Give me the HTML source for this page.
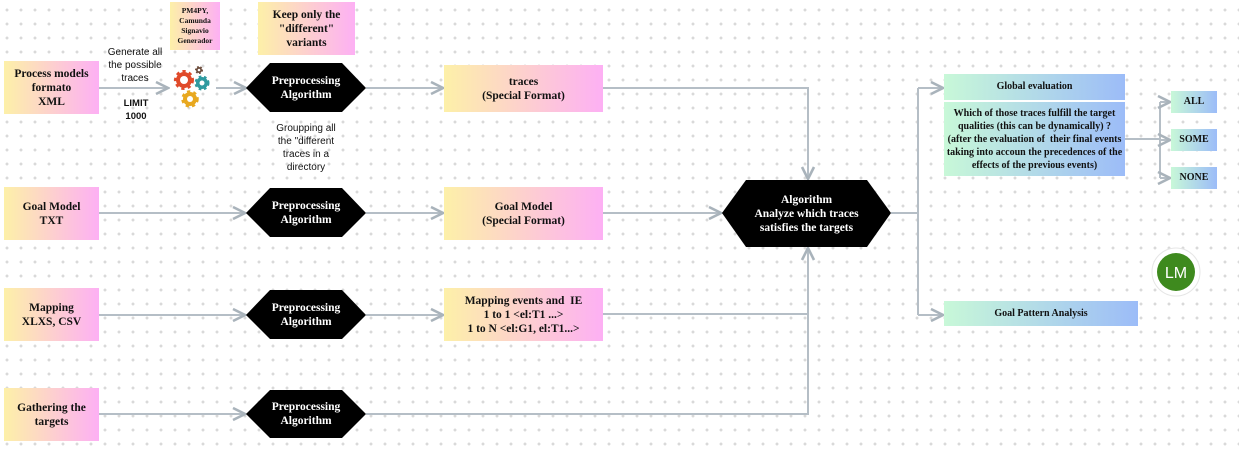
<!DOCTYPE html>
<html><head><style>
body{margin:0;width:1239px;height:450px;overflow:hidden;background:#fff;font-family:"Liberation Serif",serif;}
.bg{position:absolute;left:0;top:0;width:1239px;height:450px;background-image:radial-gradient(circle,#d9d9d9 1.3px,transparent 1.6px);background-size:14px 14px;background-position:0px 3px;}
.b{position:absolute;display:flex;align-items:center;justify-content:center;text-align:center;font-weight:bold;font-size:11.5px;line-height:14px;color:#111;box-sizing:border-box;}
.p{background:linear-gradient(90deg,#fdf0a8,#fdb0f4);}
.g{background:linear-gradient(90deg,#c8f8d8,#9cbcf8);}
.s{position:absolute;font-family:"Liberation Sans",sans-serif;font-size:10px;line-height:13px;text-align:center;color:#111;}
svg{position:absolute;left:0;top:0;}
</style></head><body>
<div class="bg"></div>
<svg width="1239" height="450">
<defs><marker id="a" markerWidth="8" markerHeight="8" refX="7" refY="4" orient="auto"><path d="M1,1 L7,4 L1,7" fill="none" stroke="#a9b3bb" stroke-width="1.3"/></marker></defs>
<g stroke="#b5bec6" stroke-width="2" fill="none">
<path d="M99,88 H168" marker-end="url(#a)"/>
<path d="M216,88 H246" marker-end="url(#a)"/>
<path d="M366,88 H443" marker-end="url(#a)"/>
<path d="M603,88 H808 V179" marker-end="url(#a)"/>
<path d="M99,213 H245" marker-end="url(#a)"/>
<path d="M366,213 H443" marker-end="url(#a)"/>
<path d="M603,213 H721" marker-end="url(#a)"/>
<path d="M99,315 H245" marker-end="url(#a)"/>
<path d="M366,315 H443" marker-end="url(#a)"/>
<path d="M603,314 H808"/>
<path d="M99,414 H245" marker-end="url(#a)"/>
<path d="M366,414 H808 V248" marker-end="url(#a)"/>
<path d="M891,213 H918"/>
<path d="M918,88 V315"/>
<path d="M918,88 H943" marker-end="url(#a)"/>
<path d="M918,315 H943" marker-end="url(#a)"/>
<path d="M1125,139 H1160"/>
<path d="M1160,102 V178"/>
<path d="M1160,102 H1170" marker-end="url(#a)"/>
<path d="M1160,140 H1170" marker-end="url(#a)"/>
<path d="M1160,178 H1170" marker-end="url(#a)"/>
</g>
<g fill="#000">
<polygon points="246,88 270,63 342,63 366,88 342,112 270,112"/>
<polygon points="246,213 270,188 342,188 366,213 342,237 270,237"/>
<polygon points="246,315 270,290 342,290 366,315 342,339 270,339"/>
<polygon points="246,414 270,390 342,390 366,414 342,438 270,438"/>
<polygon points="722,213 746,180 867,180 891,213 867,247 746,247"/>
</g>
<g>
<circle cx="184" cy="80" r="8" fill="#e04a2a" stroke="#e04a2a" stroke-width="4" stroke-dasharray="3 3"/><circle cx="184" cy="80" r="4" fill="#fff"/>
<circle cx="202" cy="83" r="6" fill="#2f9aa0" stroke="#2f9aa0" stroke-width="3" stroke-dasharray="2.5 2.5"/><circle cx="202" cy="83" r="2.5" fill="#fff"/>
<circle cx="190" cy="99" r="7" fill="#e8a81f" stroke="#e8a81f" stroke-width="3.5" stroke-dasharray="3 3"/><circle cx="190" cy="99" r="3" fill="#fff"/>
<circle cx="199" cy="70" r="3" fill="#6a4a3a" stroke="#6a4a3a" stroke-width="2" stroke-dasharray="1.5 1.5"/><circle cx="199" cy="70" r="1.3" fill="#fff"/>
</g>
<circle cx="1176" cy="272" r="24" fill="#fff" stroke="#e6e6e6"/>
<circle cx="1176" cy="272" r="19" fill="#3e8a1e"/>
<text x="1176" y="278" text-anchor="middle" fill="#fff" font-family="Liberation Sans" font-size="16">LM</text>
</svg>
<div class="b p" style="left:4px;top:61px;width:95px;height:53px">Process models<br>formato<br>XML</div>
<div class="b p" style="left:170px;top:2px;width:50px;height:48px;font-size:7.5px;line-height:10px">PM4PY,<br>Camunda<br>Signavio<br>Generador</div>
<div class="b p" style="left:258px;top:2px;width:97px;height:53px">Keep only the<br>"different"<br>variants</div>
<div class="s" style="left:104px;top:46px;width:62px">Generate all the possible traces</div>
<div class="s" style="left:116px;top:97px;width:40px;font-weight:bold;font-size:9.5px">LIMIT<br>1000</div>
<div class="s" style="left:270px;top:122px;width:72px">Groupping all the "different traces in a directory</div>
<div class="b" style="left:246px;top:63px;width:120px;height:49px;color:#fff">Preprocessing<br>Algorithm</div>
<div class="b" style="left:246px;top:188px;width:120px;height:49px;color:#fff">Preprocessing<br>Algorithm</div>
<div class="b" style="left:246px;top:290px;width:120px;height:49px;color:#fff">Preprocessing<br>Algorithm</div>
<div class="b" style="left:246px;top:390px;width:120px;height:48px;color:#fff">Preprocessing<br>Algorithm</div>
<div class="b" style="left:722px;top:180px;width:169px;height:67px;color:#fff">Algorithm<br>Analyze which traces<br>satisfies the targets</div>
<div class="b p" style="left:444px;top:65px;width:159px;height:47px">traces<br>(Special Format)</div>
<div class="b p" style="left:4px;top:187px;width:95px;height:53px">Goal Model<br>TXT</div>
<div class="b p" style="left:444px;top:187px;width:159px;height:53px">Goal Model<br>(Special Format)</div>
<div class="b p" style="left:4px;top:288px;width:95px;height:53px">Mapping<br>XLXS, CSV</div>
<div class="b p" style="left:444px;top:288px;width:159px;height:53px">Mapping events and&nbsp; IE<br>1 to 1 &lt;el:T1 ...&gt;<br>1 to N &lt;el:G1, el:T1...&gt;</div>
<div class="b p" style="left:4px;top:388px;width:95px;height:53px">Gathering the<br>targets</div>
<div class="b g" style="left:944px;top:74px;width:181px;height:26px;font-size:10px">Global evaluation</div>
<div class="b g" style="left:944px;top:102px;width:181px;height:74px;font-size:10px;line-height:13px">Which of those traces fulfill the target qualities (this can be dynamically) ?<br>(after the evaluation of&nbsp; their final events taking into accoun the precedences of the effects of the previous events)</div>
<div class="b g" style="left:1171px;top:91px;width:46px;height:22px;font-size:10px">ALL</div>
<div class="b g" style="left:1171px;top:129px;width:46px;height:22px;font-size:10px">SOME</div>
<div class="b g" style="left:1171px;top:167px;width:46px;height:22px;font-size:10px">NONE</div>
<div class="b g" style="left:944px;top:301px;width:194px;height:25px;font-size:10px">Goal Pattern Analysis</div>
</body></html>
